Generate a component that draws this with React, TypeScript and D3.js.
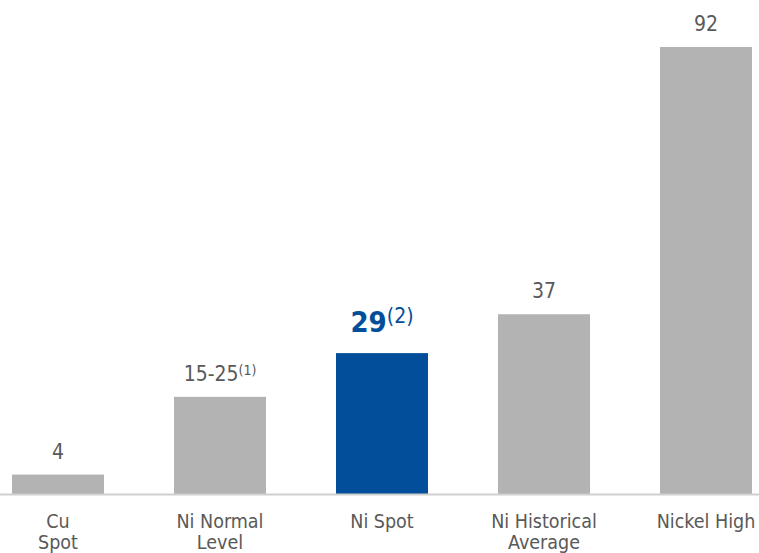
import React from "react";
import * as d3 from "d3";

const categories = ["Cu|Spot", "Ni Normal|Level", "Ni Spot", "Ni Historical|Average", "Nickel High"];
const values = [4, 20, 29, 37, 92];
const valueLabels = ["4", "15-25", "29", "37", "92"];
const superscripts = ["", "(1)", "(2)", "", ""];
const highlighted = [false, false, true, false, false];

const W = 759;
const H = 553;
const FONT = "'DejaVu Sans Condensed', 'Liberation Sans', sans-serif";
const GRAY = "#b3b3b3";
const BLUE = "#034e9b";
const TEXT = "#595959";

export default function App() {
  const x = d3
    .scaleBand<string>()
    .domain(categories)
    .range([12, 752])
    .paddingInner(70 / 162)
    .paddingOuter(0);
  const y = d3.scaleLinear().domain([0, 92]).range([494, 47]);
  const bw = x.bandwidth();

  return (
    <svg
      width={W}
      height={H}
      style={{ position: "absolute", left: 0, top: 0, background: "#fff" }}
      fontFamily={FONT}
    >
      {categories.map((c, i) => {
        const x0 = x(c)!;
        const cx = x0 + bw / 2;
        const top = y(values[i]);
        const hl = highlighted[i];
        const lines = c.split("|");
        return (
          <g key={c}>
            <rect x={x0} y={top} width={bw} height={y(0) - top} fill={hl ? BLUE : GRAY} />
            <text
              x={cx}
              y={top - (hl ? 21 : 16)}
              textAnchor="middle"
              fill={hl ? BLUE : TEXT}
              fontSize={hl ? 29 : 21}
              fontWeight={hl ? "bold" : "normal"}
            >
              {valueLabels[i]}
              {superscripts[i] && (
                <tspan fontSize={hl ? 21 : 14} fontWeight="normal" dy={hl ? -9 : -6}>
                  {superscripts[i]}
                </tspan>
              )}
            </text>
            <text x={cx} y={528} textAnchor="middle" fill={TEXT} fontSize={19.5}>
              {lines.map((l, j) => (
                <tspan key={j} x={cx} dy={j === 0 ? 0 : 21}>
                  {l}
                </tspan>
              ))}
            </text>
          </g>
        );
      })}
      <line x1={0} x2={W} y1={y(0) + 0.5} y2={y(0) + 0.5} stroke="#d0d0d0" strokeWidth={2} />
    </svg>
  );
}
